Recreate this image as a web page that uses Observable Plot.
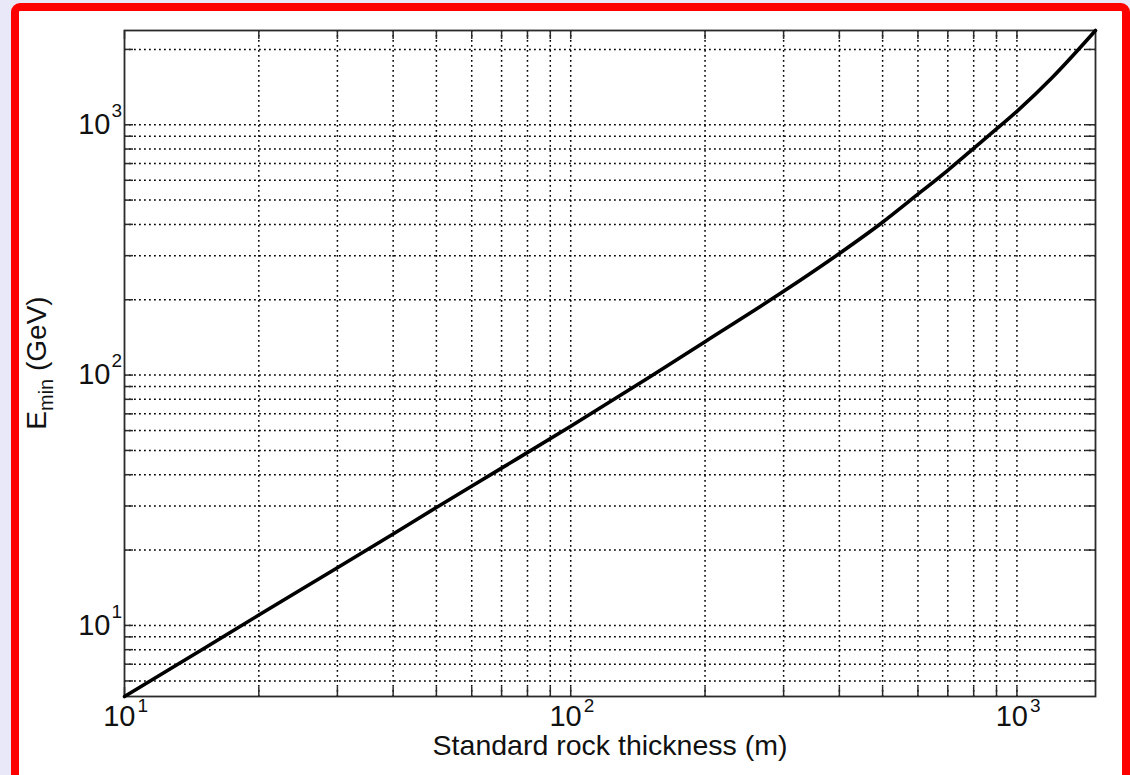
<!DOCTYPE html>
<html><head><meta charset="utf-8">
<script src="https://cdn.jsdelivr.net/npm/d3@7"></script>
<script src="https://cdn.jsdelivr.net/npm/@observablehq/plot@0.6"></script>
<style>
html,body{margin:0;padding:0;width:1130px;height:775px;overflow:hidden;background:#e8e8f8;font-family:"Liberation Sans",Arial,sans-serif;}
#box{position:absolute;left:11px;top:3px;width:1119px;height:782px;box-sizing:border-box;border:8px solid #ff0000;border-radius:9px;background:#fff;}
#chart{position:absolute;left:0;top:0;}
</style></head><body><div id="box"></div><div id="chart"></div>
<script>
// Data (standard rock thickness in m, E_min in GeV)
const thickness = [10, 15, 20, 30, 40, 50, 70, 100, 150, 200, 300, 400, 500, 600, 700, 800, 900, 1000, 1200, 1500];
const emin      = [5.2, 8.05, 11.0, 17.0, 23.2, 29.6, 42.5, 62.5, 98, 136, 216, 306, 408, 528, 658, 805, 962, 1132, 1545, 2380];

const xMajor = [10, 100, 1000];
const xMinor = [20, 30, 40, 50, 60, 70, 80, 90, 200, 300, 400, 500, 600, 700, 800, 900];
const yMajor = [10, 100, 1000];
const yMinor = [6, 7, 8, 9, 20, 30, 40, 50, 60, 70, 80, 90, 200, 300, 400, 500, 600, 700, 800, 900, 2000];
const majorBase = ["10", "10", "10"];
const majorExp = ["1", "2", "3"];

const xLabel = "Standard rock thickness (m)";

const data = thickness.map((t, i) => ({t, e: emin[i]}));
const xTicks = [...xMajor, ...xMinor];
const yTicks = [...yMajor, ...yMinor];
const xGrid = xTicks.filter(d => d !== 10);
const yGrid = yTicks;

const W = 1130, H = 775;
const mL = 124, mR = 35, mT = 30, mB = 79;
const tickLen = 9;
const innerW = W - mL - mR, innerH = H - mT - mB;
const axisColor = "#2a2a2a";
const gridStyle = {stroke: "#000", strokeWidth: 1.5, strokeDasharray: "1.8,3.2"};
const font = '"Liberation Sans", Arial, sans-serif';

const chart = Plot.plot({
  width: W, height: H,
  marginLeft: mL, marginRight: mR, marginTop: mT, marginBottom: mB,
  style: {background: "transparent", fontFamily: font},
  x: {type: "log", domain: [10, 1500], axis: null},
  y: {type: "log", domain: [5.2, 2380], axis: null},
  marks: [
    Plot.ruleX(xGrid, {x: d => d, ...gridStyle}),
    Plot.ruleY(yGrid, {y: d => d, ...gridStyle}),
    // inward ticks on all four sides
    Plot.tickX(xTicks, {x: d => d, insetTop: innerH - tickLen, stroke: axisColor, strokeWidth: 1.5}),
    Plot.tickX(xTicks, {x: d => d, insetBottom: innerH - tickLen, stroke: axisColor, strokeWidth: 1.5}),
    Plot.tickY(yTicks, {y: d => d, insetRight: innerW - tickLen, stroke: axisColor, strokeWidth: 1.5}),
    Plot.tickY(yTicks, {y: d => d, insetLeft: innerW - tickLen, stroke: axisColor, strokeWidth: 1.5}),
    Plot.frame({stroke: axisColor, strokeWidth: 1.8}),
    Plot.line(data, {x: "t", y: "e", stroke: "#000", strokeWidth: 3.6, curve: "monotone-x"}),
    // x tick labels
    Plot.text(xMajor, {x: d => d, frameAnchor: "bottom", text: (d, i) => majorBase[i], textAnchor: "end", dx: 11, dy: 29, fontSize: 29, fill: "#111"}),
    Plot.text(xMajor, {x: d => d, frameAnchor: "bottom", text: (d, i) => majorExp[i], textAnchor: "start", dx: 13, dy: 15, fontSize: 19, fill: "#111"}),
    // y tick labels
    Plot.text(yMajor, {y: d => d, frameAnchor: "left", text: (d, i) => majorBase[i], textAnchor: "end", dx: -14, dy: 0, fontSize: 29, fill: "#111"}),
    Plot.text(yMajor, {y: d => d, frameAnchor: "left", text: (d, i) => majorExp[i], textAnchor: "start", dx: -13, dy: -14, fontSize: 19, fill: "#111"}),
    // x label
    Plot.text([xLabel], {frameAnchor: "bottom", text: d => d, dy: 58, fontSize: 28.5, fill: "#111"})
  ]
});

document.getElementById("chart").appendChild(chart);

// y label with subscript
const svg = d3.select(chart);
const yl = svg.append("text")
  .attr("transform", `translate(46,${mT + innerH / 2}) rotate(-90)`)
  .attr("text-anchor", "middle")
  .attr("font-family", font)
  .attr("font-size", 28)
  .attr("fill", "#111");
yl.append("tspan").text("E");
yl.append("tspan").attr("font-size", 20).attr("dy", 7).text("min");
yl.append("tspan").attr("dy", -7).text(" (GeV)");
</script>
</body></html>
